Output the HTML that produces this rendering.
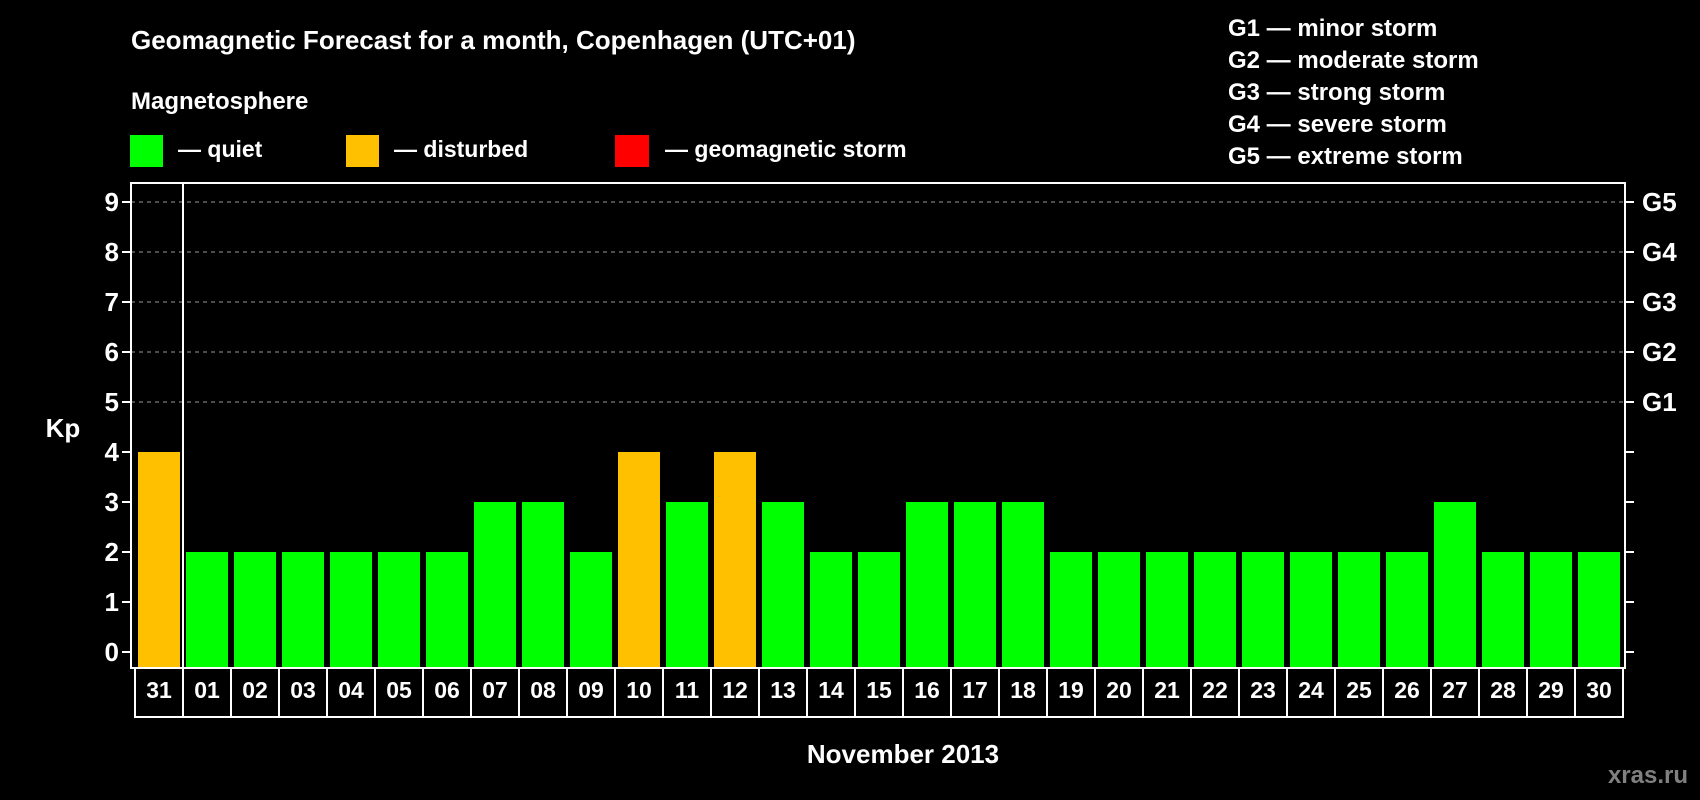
<!DOCTYPE html>
<html><head><meta charset="utf-8"><style>
html,body{margin:0;padding:0;background:#000;}
svg{display:block;font-family:"Liberation Sans",Arial,sans-serif;font-weight:bold;}
</style></head><body>
<svg id="chart" width="1700" height="800" viewBox="0 0 1700 800">
<text x="131" y="49" font-size="26" fill="#fff">Geomagnetic Forecast for a month, Copenhagen (UTC+01)</text>
<text x="131" y="109" font-size="24" fill="#fff">Magnetosphere</text>
<g><rect x="130" y="135" width="33" height="32" fill="#00ff00"/><text x="178" y="157" font-size="23" fill="#fff">— quiet</text></g>
<g><rect x="346" y="135" width="33" height="32" fill="#ffc000"/><text x="394" y="157" font-size="23" fill="#fff">— disturbed</text></g>
<g><rect x="615" y="135" width="34" height="32" fill="#ff0000"/><text x="665" y="157" font-size="23" fill="#fff">— geomagnetic storm</text></g>
<g font-size="24" fill="#fff">
<text x="1228" y="36">G1 — minor storm</text>
<text x="1228" y="68">G2 — moderate storm</text>
<text x="1228" y="100">G3 — strong storm</text>
<text x="1228" y="132">G4 — severe storm</text>
<text x="1228" y="164">G5 — extreme storm</text>
</g>
<text x="63" y="437" font-size="26" fill="#fff" text-anchor="middle">Kp</text>
<text x="903" y="763" font-size="26" fill="#fff" text-anchor="middle">November 2013</text>
<text x="1688" y="783" font-size="24" fill="#808080" text-anchor="end">xras.ru</text>
<g id="plot"></g>
</svg>
<script>
const days = ["31","01","02","03","04","05","06","07","08","09","10","11","12","13","14","15","16","17","18","19","20","21","22","23","24","25","26","27","28","29","30"];
const kp = [4,2,2,2,2,2,2,3,3,2,4,3,4,3,2,2,3,3,3,2,2,2,2,2,2,2,2,3,2,2,2];
const yTicks = [0,1,2,3,4,5,6,7,8,9];
const gLabels = ["G1","G2","G3","G4","G5"];
const gLevels = [5,6,7,8,9];

const NS="http://www.w3.org/2000/svg";
const L=131,R=1625,T=183,B=668,slot0=135,pitch=48;
const y=v=>652-v*50;
const x=i=>slot0+i*pitch;
const g=document.getElementById('plot');
function mk(tag,a){const e=document.createElementNS(NS,tag);for(const k in a)e.setAttribute(k,a[k]);g.appendChild(e);return e;}
// gridlines
gLevels.forEach((v,i)=>{
 const l=mk('line',{x1:L,x2:R,y1:y(v),y2:y(v),stroke:'#999','stroke-width':1,'stroke-dasharray':'4,4'});
 
 
 const t=mk('text',{x:R+17,y:y(v)+9,fill:'#fff','font-size':26});
 t.textContent=gLabels[i];
 
 
});
yTicks.forEach(v=>{
 const tk=mk('line',{x1:L-9,x2:L,y1:y(v),y2:y(v),stroke:'#fff','stroke-width':2});
 
 
 const tr=mk('line',{x1:R,x2:R+9,y1:y(v),y2:y(v),stroke:'#fff','stroke-width':2});
 
 
 const t=mk('text',{x:L-12,y:y(v)+9,fill:'#fff','font-size':26,'text-anchor':'end'});
 t.textContent=v;
 
 
});
kp.forEach((v,i)=>{
 const r=mk('rect',{x:x(i)+3,y:y(v),width:42,height:B-y(v),fill:v>=5?'#ff0000':(v>=4?'#ffc000':'#00ff00')});
 
 
 const c=mk('rect',{x:x(i),y:B,width:pitch,height:49,fill:'none',stroke:'#fff','stroke-width':2});
 
 
 const t=mk('text',{x:x(i)+pitch/2,y:B+30,fill:'#fff','font-size':23,'text-anchor':'middle'});
 t.textContent=days[i];
 
 
});
const f=mk('rect',{x:L,y:T,width:R-L,height:B-T,fill:'none',stroke:'#fff','stroke-width':2});


const d=mk('line',{x1:x(1)-0,x2:x(1),y1:T,y2:B,stroke:'#fff','stroke-width':2});


</script>
</body></html>
